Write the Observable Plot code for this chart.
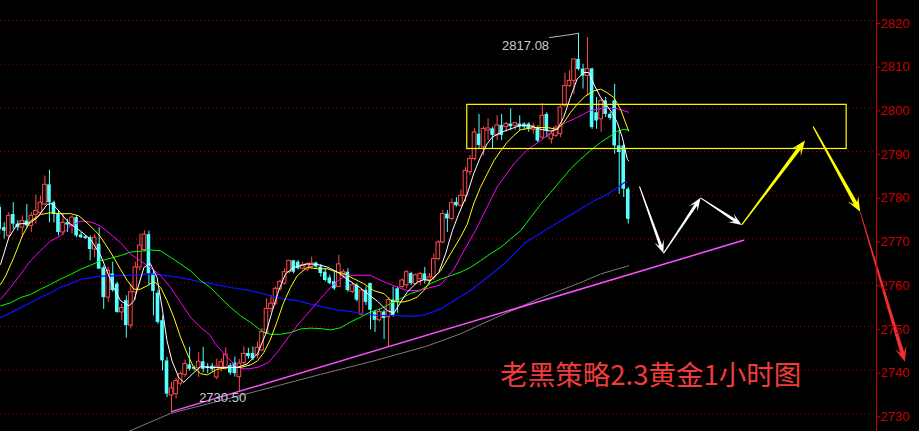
<!DOCTYPE html>
<html>
<head>
<meta charset="utf-8">
<script src="https://cdn.jsdelivr.net/npm/d3@7"></script>
<script src="https://cdn.jsdelivr.net/npm/@observablehq/plot@0.6"></script>
<style>
  html, body { margin: 0; padding: 0; background: #000; overflow: hidden; }
  #chart { width: 919px; height: 431px; }
</style>
</head>
<body>
<div id="chart"></div>
<script>
// XAUUSD hourly candles (oldest first)
const openPx = [
  2777.2, 2772.6, 2770.7, 2775.6, 2773.4, 2772.6, 2774.1, 2773.0, 2775.5, 2776.0,
  2777.9, 2782.4, 2778.3, 2775.6, 2771.5, 2773.7, 2773.0, 2774.9, 2770.9, 2770.5,
  2770.3, 2767.6, 2768.8, 2763.4, 2756.6, 2762.0, 2759.7, 2753.2, 2755.9, 2750.2,
  2757.8, 2763.5, 2767.5, 2771.0, 2762.0, 2757.6, 2751.3, 2742.1, 2734.2, 2734.5,
  2736.9, 2738.9, 2741.2, 2740.6, 2740.4, 2741.9, 2740.8, 2740.9, 2738.3, 2740.6,
  2740.6, 2741.0, 2741.6, 2738.4, 2741.6, 2743.8, 2743.8, 2743.4, 2744.5, 2748.5,
  2754.0, 2755.2, 2758.5, 2759.8, 2762.4, 2765.0, 2764.7, 2763.2, 2763.0, 2763.6,
  2764.5, 2763.6, 2762.4, 2761.1, 2760.2, 2759.0, 2761.7, 2762.4, 2757.9, 2759.4,
  2752.7, 2758.2, 2759.8, 2753.3, 2751.4, 2753.3, 2752.1, 2756.0, 2758.6, 2759.0,
  2759.4, 2762.1, 2759.7, 2760.8, 2762.0, 2760.5, 2761.2, 2765.4, 2769.2, 2775.7,
  2774.6, 2778.4, 2777.6, 2779.9, 2785.3, 2788.3, 2794.0, 2791.0, 2794.8, 2795.2,
  2793.7, 2796.0, 2795.6, 2796.3, 2795.9, 2796.3, 2796.3, 2796.3, 2795.0, 2795.5,
  2793.2, 2798.5, 2792.8, 2793.6, 2794.0, 2800.5, 2805.0, 2806.2, 2811.1, 2808.9,
  2807.3, 2808.9, 2798.9, 2797.4, 2801.6, 2798.5, 2801.6, 2791.3, 2791.3, 2781.4
];
const highPx = [
  2778.0, 2773.7, 2776.0, 2778.3, 2774.2, 2775.3, 2777.9, 2776.0, 2780.0, 2779.8,
  2784.4, 2785.7, 2778.7, 2776.4, 2775.6, 2774.5, 2775.3, 2775.3, 2771.5, 2770.8,
  2770.7, 2771.0, 2772.6, 2763.8, 2763.5, 2764.7, 2760.1, 2755.1, 2757.0, 2759.7,
  2764.7, 2771.1, 2771.9, 2771.8, 2762.7, 2758.2, 2752.4, 2742.9, 2737.2, 2738.2,
  2739.5, 2742.3, 2745.2, 2740.9, 2744.0, 2745.2, 2741.5, 2741.5, 2742.5, 2742.5,
  2745.1, 2741.5, 2743.0, 2742.4, 2745.3, 2745.0, 2745.3, 2746.4, 2749.5, 2756.3,
  2757.1, 2759.0, 2760.6, 2763.2, 2765.1, 2765.1, 2765.1, 2764.7, 2764.5, 2765.9,
  2764.7, 2764.2, 2763.2, 2761.7, 2762.4, 2766.3, 2763.0, 2763.2, 2759.9, 2759.8,
  2758.6, 2759.0, 2759.9, 2753.7, 2754.1, 2753.7, 2756.5, 2759.0, 2759.0, 2760.9,
  2762.8, 2762.4, 2762.0, 2762.4, 2763.5, 2762.1, 2766.6, 2769.6, 2776.5, 2776.5,
  2779.2, 2779.5, 2781.2, 2786.4, 2789.1, 2795.2, 2798.5, 2795.6, 2797.5, 2795.6,
  2798.2, 2798.5, 2796.7, 2799.8, 2796.7, 2798.2, 2796.6, 2796.6, 2796.5, 2795.9,
  2801.0, 2798.9, 2794.7, 2795.9, 2800.5, 2807.9, 2808.5, 2811.2, 2817.08, 2810.0,
  2816.1, 2809.1, 2802.4, 2802.0, 2802.4, 2799.0, 2805.4, 2794.7, 2791.7, 2781.8
];
const lowPx = [
  2771.0, 2770.0, 2770.0, 2772.2, 2771.8, 2770.3, 2772.6, 2771.5, 2773.4, 2775.5,
  2777.6, 2773.7, 2773.7, 2770.7, 2770.7, 2771.5, 2771.1, 2770.3, 2770.1, 2769.9,
  2765.0, 2765.7, 2763.1, 2753.9, 2755.5, 2757.8, 2753.0, 2751.3, 2747.3, 2749.4,
  2756.0, 2762.7, 2767.0, 2759.3, 2752.4, 2750.5, 2739.8, 2733.7, 2730.5, 2733.4,
  2736.4, 2738.3, 2739.8, 2739.8, 2738.3, 2739.4, 2739.2, 2739.6, 2737.8, 2739.5,
  2740.0, 2738.8, 2738.4, 2734.9, 2741.2, 2742.5, 2742.2, 2742.6, 2744.2, 2748.2,
  2753.2, 2754.8, 2758.1, 2759.4, 2762.0, 2762.0, 2762.9, 2762.9, 2762.5, 2763.2,
  2763.2, 2761.3, 2760.2, 2759.5, 2758.2, 2758.9, 2761.2, 2757.8, 2757.5, 2755.6,
  2752.4, 2754.8, 2749.2, 2748.6, 2751.0, 2747.0, 2745.3, 2752.1, 2753.0, 2758.6,
  2758.6, 2759.4, 2759.4, 2759.3, 2759.7, 2759.5, 2760.5, 2765.0, 2768.9, 2771.5,
  2774.2, 2777.3, 2777.3, 2778.4, 2784.5, 2787.9, 2790.6, 2789.1, 2792.5, 2790.6,
  2792.5, 2792.5, 2794.4, 2794.8, 2794.8, 2794.8, 2795.0, 2794.4, 2794.0, 2792.1,
  2792.8, 2793.2, 2791.7, 2793.2, 2793.2, 2800.1, 2804.7, 2803.1, 2808.5, 2804.3,
  2802.7, 2795.1, 2795.1, 2794.4, 2797.8, 2797.2, 2789.4, 2780.2, 2779.5, 2773.4
];
const closePx = [
  2772.2, 2771.8, 2775.3, 2773.4, 2772.6, 2774.1, 2773.0, 2775.3, 2776.4, 2778.3,
  2782.4, 2778.3, 2775.6, 2771.5, 2773.7, 2773.2, 2774.9, 2770.7, 2770.3, 2770.1,
  2767.6, 2770.3, 2763.1, 2756.6, 2762.7, 2758.2, 2753.2, 2754.2, 2750.2, 2757.8,
  2763.5, 2768.5, 2771.0, 2762.0, 2758.0, 2750.9, 2742.1, 2734.5, 2735.8, 2737.5,
  2739.1, 2741.4, 2740.2, 2740.2, 2741.9, 2740.2, 2740.4, 2740.1, 2740.8, 2741.8,
  2743.5, 2739.3, 2739.2, 2741.5, 2743.7, 2743.1, 2742.6, 2745.1, 2748.7, 2754.0,
  2755.2, 2758.6, 2760.2, 2762.4, 2765.0, 2762.4, 2763.2, 2764.0, 2764.2, 2764.4,
  2763.6, 2762.1, 2760.5, 2759.8, 2758.6, 2764.2, 2762.4, 2758.2, 2759.4, 2756.0,
  2758.2, 2755.5, 2753.7, 2751.4, 2753.3, 2751.8, 2756.0, 2752.5, 2755.6, 2760.5,
  2762.4, 2759.8, 2761.7, 2762.0, 2760.5, 2761.2, 2765.4, 2769.2, 2775.7, 2774.6,
  2778.2, 2777.6, 2779.9, 2785.6, 2788.3, 2794.4, 2791.4, 2795.2, 2795.3, 2793.7,
  2796.0, 2793.7, 2796.3, 2795.7, 2796.5, 2795.6, 2795.6, 2795.1, 2795.8, 2792.4,
  2798.2, 2794.7, 2794.0, 2795.5, 2800.1, 2805.0, 2806.2, 2811.1, 2808.8, 2807.3,
  2808.9, 2795.5, 2797.0, 2801.6, 2798.5, 2797.6, 2791.3, 2789.8, 2781.4, 2774.5
];

// price axis ticks
const priceTicks = [2730, 2740, 2750, 2760, 2770, 2780, 2790, 2800, 2810, 2820];

// moving averages, [bar index, price]
const maWhite = [[0.2,2764.2],[2,2770.3],[3.9,2773.4],[6.8,2773.7],[8.3,2774.9],[10.5,2777.9],[11.6,2778.1],[13.1,2776.4],[15.3,2773.7],[17.9,2771.8],[20.1,2769.9],[22.3,2766.3],[25.2,2758.9],[26.7,2755.9],[28.6,2754.7],[29.7,2755.9],[31.9,2763.5],[33.3,2764.4],[34.8,2761.2],[35.9,2754.4],[37,2746.7],[38.1,2742.1],[39.6,2738.3],[40.7,2737.2],[42.6,2739.1],[44.4,2740.8],[46.6,2740.6],[50.3,2740.6],[52.5,2740.6],[54.7,2741.4],[57,2743.7],[58.8,2748.2],[60.3,2753.6],[61.7,2758.2],[63.2,2762],[65,2763.5],[68,2764.3],[70.2,2764.2],[72.4,2763.6],[74.6,2762.5],[76.8,2760.8],[79.8,2758.8],[81.3,2757.5],[83.5,2755.8],[85.7,2753.6],[87.2,2753.1],[88.6,2755.4],[90.1,2757.8],[92.3,2760.1],[93.8,2760.7],[95.3,2760.5],[97.1,2762.4],[98.6,2766.6],[100.1,2771.9],[101.5,2775.7],[103.4,2780.3],[104.8,2784.9],[106.3,2788.7],[107.8,2791.8],[108.9,2793.3],[110.8,2794.4],[113,2795.2],[115.2,2796],[117.4,2795.9],[119.6,2795.1],[121.8,2794.7],[123.3,2795.1],[124.7,2797.8],[126.2,2802.4],[127.7,2806.6],[129.2,2808.1],[130.3,2808.1],[131.4,2805.4],[132.9,2802.4],[134.3,2800.5],[135.4,2798.9],[136.6,2796.6],[137.7,2793.2],[138.8,2788.2],[139.1,2787.9]];
const maYellow = [[0.2,2759.6],[1.3,2761.5],[3.1,2765.7],[5,2770.7],[6.8,2774.1],[9,2775.6],[11.2,2776],[13.1,2775.8],[15.7,2775.8],[17.5,2775.3],[19.3,2773.7],[21.2,2771.8],[22.3,2770.5],[24.5,2767],[26.7,2763.1],[28.2,2760.5],[29.7,2758.5],[31.1,2758.5],[32.6,2759.3],[34.1,2760.3],[35.6,2758.9],[37,2755.9],[38.5,2752.1],[40,2747.5],[41.5,2743.7],[42.9,2740.6],[44.4,2739.2],[45.9,2738.9],[48.1,2740.2],[51,2740.6],[53.3,2740.6],[55.5,2741.2],[57,2742.1],[58.4,2744],[59.9,2747.1],[61.4,2751.3],[62.8,2755.5],[64.3,2758.9],[65.8,2761.6],[68,2763.5],[70.2,2763.2],[72.4,2763.2],[74.6,2762.4],[76.1,2762.1],[78.3,2760.9],[80.5,2759.8],[82.7,2758.2],[85,2757.5],[86.4,2756],[87.9,2755.6],[89.4,2755.6],[90.8,2756],[92.3,2756.7],[93.8,2758.2],[95.3,2760.5],[97.5,2762.7],[99.7,2766.6],[101.9,2770.4],[103.4,2773.4],[104.8,2778],[106.3,2781.8],[107.8,2784.9],[109.3,2787.9],[110.8,2790.2],[112.2,2792.1],[113.7,2793.7],[115.2,2795],[118.1,2795.5],[121.1,2795.5],[123.3,2795.1],[124.7,2796.6],[126.2,2798.9],[127.7,2800.8],[129.5,2802.7],[131.4,2803.9],[132.9,2804.3],[134.3,2803.5],[135.8,2802.4],[137.3,2799.7],[138.4,2796.6],[139.1,2794.7]];
const maMagenta = [[0.2,2756.2],[2.4,2758.9],[4.6,2761.9],[6.8,2765],[9,2767.3],[11.2,2769.5],[13.4,2770.7],[15.7,2773],[17.9,2774.1],[20.1,2773.9],[22.3,2773],[24.5,2771.1],[26.7,2769.2],[28.9,2766.6],[31.1,2765],[33.3,2763.5],[35.6,2761.6],[37.8,2758.9],[40,2755.5],[42.2,2752.1],[44.4,2749.8],[46.6,2747.9],[47.7,2746],[49.9,2743.4],[52.1,2741.1],[53.6,2740.3],[55.1,2740.3],[57.3,2740.7],[59.5,2741.8],[61.7,2744.5],[63.9,2747.6],[66.1,2750.6],[68.4,2753.3],[70.9,2756.3],[73.2,2759],[75.4,2760.9],[76.8,2761.7],[79.8,2761.7],[82,2761.7],[83.5,2760.9],[85.7,2759.9],[87.9,2759],[90.1,2758.2],[92.3,2758.2],[94.2,2758.6],[97.5,2759.5],[100.4,2763],[102.5,2767],[105.2,2771.9],[106.3,2774.2],[110,2781.9],[113.7,2787.2],[116.6,2790.3],[119.6,2792.5],[122.5,2794.8],[124.7,2796.4],[127.7,2797.8],[130.6,2799.4],[133.6,2800],[136.6,2799.8],[139.1,2799]];
const maGreen = [[0.2,2754.7],[2.4,2755.4],[4.6,2756.6],[6.8,2757.3],[9,2758.5],[11.2,2759.6],[13.4,2760.8],[15.7,2761.9],[17.9,2763.1],[20.1,2764],[22.3,2765],[24.5,2765.6],[26.7,2766.2],[28.9,2767],[31.1,2767.2],[33.3,2767.5],[35.6,2767.3],[37.8,2765.8],[40,2764.3],[42.2,2762.7],[44.4,2760.5],[46.6,2758.9],[48.8,2756.6],[51,2754.4],[53.3,2752.4],[55.5,2750.9],[58.4,2748.6],[59.9,2748.2],[62.1,2748.2],[64.3,2748.6],[66.5,2749.4],[68.7,2749.6],[70.9,2749.5],[73.2,2749.2],[75.4,2749.7],[77.6,2751],[79.8,2752.1],[82,2753.3],[84.2,2754],[86.4,2755.2],[88.6,2756.3],[90.8,2757.5],[93,2758.2],[95.3,2759.8],[97.5,2760.8],[99.7,2761.6],[101.9,2762.4],[104.1,2763.5],[106.3,2765],[108.5,2766.6],[110.8,2768.1],[113,2770],[115.2,2771.9],[117.4,2774.9],[119.6,2777.9],[121.8,2780.6],[124,2783.3],[126.2,2786],[128.4,2788.2],[130.6,2790.2],[132.9,2792.1],[135.1,2793.6],[136.6,2794.7],[138.1,2795.1],[139.1,2794.9]];
const maBlue = [[0.2,2752],[2.4,2753.1],[4.6,2754.3],[6.8,2755.4],[9,2756.6],[11.2,2757.7],[13.4,2758.9],[15.7,2759.8],[17.9,2760.8],[20.1,2761.1],[22.3,2761.5],[26.7,2761.6],[31.1,2761.8],[33.3,2762],[35.6,2761.8],[37.8,2761.5],[40,2761.1],[42.2,2760.7],[44.4,2760.2],[46.6,2759.8],[51,2758.9],[55.5,2758.2],[59.9,2757],[62.8,2756.3],[65.8,2755.9],[68.7,2755.1],[71.7,2754.4],[74.6,2753.8],[77.6,2753.4],[80.5,2752.9],[83.5,2752.5],[86.4,2752.5],[89.4,2752.4],[91.6,2752.3],[94.2,2752.7],[97.5,2754],[101.2,2756.4],[104.1,2758.2],[107.8,2761.2],[111.5,2764.3],[114.4,2767.3],[116.3,2769.2],[120.3,2771.8],[124,2774.1],[127.7,2776.4],[131.4,2778.7],[134.3,2780.2],[136.6,2781.8],[138.1,2782.9],[138.8,2783.1]];
const maGray = [[27,2725.3],[37.8,2730.1],[48.8,2733],[59.9,2736],[70.9,2739],[82.7,2742.1],[94.2,2745.4],[101.9,2748.3],[110.8,2752.5],[119.6,2756.5],[128.4,2760],[132.9,2762],[139.1,2763.9]];

// hand-drawn analysis objects, [bar index, price]
const supportLine = [[38, 2730.5], [164.5, 2769.7]];
const resistanceZone = {i1: 103.4, i2: 187.3, top: 2800.7, bottom: 2790.6};
const whitePath = [[141.6, 2781.9], [146.9, 2766.6], [155.1, 2779.3], [164.2, 2773.1]];
const yellowMoves = [[[164.2, 2773.1], [178.2, 2792.4]], [[180.0, 2795.6], [190.4, 2776.1]]];
const redMove = [[[190.4, 2776.1], [200.3, 2741.8]]];
const peakLeader = [[121.6, 2816.1], [125.1, 2816.6], [128, 2817.08]];
const priceNotes = [
  {i: 116.3, p: 2814.3, t: "2817.08"},
  {i: 49.3, p: 2733.7, t: "2730.50"}
];
const title = [{i: 110.7, p: 2738.6, t: "老黑策略2.3黄金1小时图"}];

const candles = openPx.map((o, i) => ({
  i, o, h: highPx[i], l: lowPx[i], c: closePx[i], up: closePx[i] >= o
}));
const upBars = candles.filter(d => d.up);
const downBars = candles.filter(d => !d.up);

const UP = "#ff4a4a", DOWN = "#54ffff";
const halfBody = 0.4;

// tapered arrow with barbed head, drawn in screen space from scaled endpoints
function taperedArrows(segments, color, w0, w1, headLen, headHalf) {
  return (index, scales) => {
    const g = d3.create("svg:g");
    for (const [[a, pa], [b, pb]] of segments) {
      const x1 = scales.x(a), y1 = scales.y(pa), x2 = scales.x(b), y2 = scales.y(pb);
      const len = Math.hypot(x2 - x1, y2 - y1);
      const ux = (x2 - x1) / len, uy = (y2 - y1) / len, nx = -uy, ny = ux;
      const nxk = x2 - ux * headLen * 0.65, nyk = y2 - uy * headLen * 0.65;
      const bx = x2 - ux * headLen, by = y2 - uy * headLen;
      const pts = [
        [x1 + nx * w0 / 2, y1 + ny * w0 / 2],
        [nxk + nx * w1 / 2, nyk + ny * w1 / 2],
        [bx + nx * headHalf, by + ny * headHalf],
        [x2, y2],
        [bx - nx * headHalf, by - ny * headHalf],
        [nxk - nx * w1 / 2, nyk - ny * w1 / 2],
        [x1 - nx * w0 / 2, y1 - ny * w0 / 2]
      ];
      g.append("polygon")
        .attr("points", pts.map(p => p.map(v => v.toFixed(2)).join(",")).join(" "))
        .attr("fill", color);
    }
    return g.node();
  };
}
const pairs = path => path.slice(1).map((p, k) => [path[k], p]);

const xDomain = [0.177, 193.9];
const yDomain = [2725.95, 2824.58];

const chart = Plot.plot({
  width: 919,
  height: 431,
  marginTop: 0,
  marginBottom: 0,
  marginLeft: 0,
  marginRight: 43,
  style: {background: "#000", fontFamily: "'Liberation Sans', Arial, sans-serif"},
  x: {type: "linear", domain: xDomain, axis: null},
  y: {domain: yDomain},
  marks: [
    Plot.gridY(priceTicks, {stroke: "#a00000", strokeOpacity: 1, strokeDasharray: "1,3"}),
    // wicks then bodies
    Plot.ruleX(upBars, {x: "i", y1: "l", y2: "h", stroke: UP, strokeWidth: 1}),
    Plot.ruleX(downBars, {x: "i", y1: "l", y2: "h", stroke: DOWN, strokeWidth: 1}),
    Plot.rect(downBars, {x1: d => d.i - halfBody, x2: d => d.i + halfBody, y1: "o", y2: "c", fill: DOWN}),
    Plot.rect(upBars, {x1: d => d.i - halfBody, x2: d => d.i + halfBody, y1: "o", y2: "c", fill: "#000", stroke: UP, strokeWidth: 1}),
    // moving averages
    Plot.line(maGray, {x: d => d[0], y: d => d[1], stroke: "#7a7a7a", strokeWidth: 1}),
    Plot.line(maBlue, {x: d => d[0], y: d => d[1], stroke: "#1010ff", strokeWidth: 1.2}),
    Plot.line(maGreen, {x: d => d[0], y: d => d[1], stroke: "#00ff00", strokeWidth: 1}),
    Plot.line(maMagenta, {x: d => d[0], y: d => d[1], stroke: "#ff00ff", strokeWidth: 1}),
    Plot.line(maYellow, {x: d => d[0], y: d => d[1], stroke: "#ffff00", strokeWidth: 1}),
    Plot.line(maWhite, {x: d => d[0], y: d => d[1], stroke: "#ffffff", strokeWidth: 1}),
    // support trend line and resistance zone
    Plot.line(supportLine, {x: d => d[0], y: d => d[1], stroke: "#ff50ff", strokeWidth: 1.5}),
    Plot.rect([resistanceZone], {x1: "i1", x2: "i2", y1: "bottom", y2: "top", fill: "none", stroke: "#ffff00", strokeWidth: 1.2}),
    // price notes
    Plot.line(peakLeader, {x: d => d[0], y: d => d[1], stroke: "#b8b8b8", strokeWidth: 1}),
    Plot.text(priceNotes, {x: "i", y: "p", text: "t", fill: "#c8ccd4", fontSize: 13}),
    // projected path
    taperedArrows(pairs(whitePath), "#ffffff", 1, 3, 13, 5),
    taperedArrows(yellowMoves, "#ffff00", 1.2, 4, 15, 6),
    taperedArrows(redMove, "#f03030", 0.8, 4, 15, 6),
    Plot.text(title, {x: "i", y: "p", text: "t", textAnchor: "start", fill: "#f03c3c", fontSize: 27.5,
      fontFamily: "'Noto Sans CJK SC', 'Noto Sans', sans-serif"}),
    // right price axis
    Plot.ruleX([xDomain[1]], {stroke: "#d00000", strokeWidth: 1}),
    Plot.axisY(priceTicks, {anchor: "right", tickSize: 3, tickPadding: 1, color: "#c80000",
      fontSize: 13, dy: 3, tickFormat: d => String(d), label: null})
  ]
});
document.getElementById("chart").appendChild(chart);
</script>
</body>
</html>
